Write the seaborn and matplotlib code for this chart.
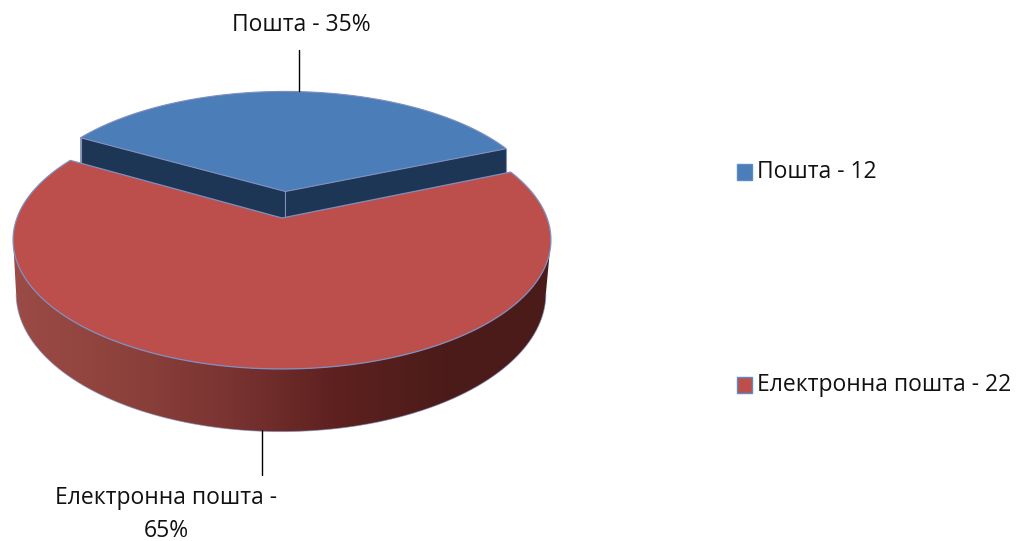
import numpy as np
import seaborn as sns
import matplotlib
matplotlib.use("Agg")
import matplotlib.pyplot as plt
from matplotlib.colors import ListedColormap
from matplotlib.patches import Polygon, Rectangle

names = ["Пошта", "Електронна пошта"]
values = [12, 22]
top_colors = ["#4B7DB9", "#BC4F4C"]
wall_blue = "#1E3655"
wall_reds = ["#9C4B47", "#8E423C", "#7A3432", "#5E211F", "#4C1C1A", "#4A1B19"]
edge_col = "#7F8FBF"

# fitted against the picture: perspective pie in pixel space
CX, CY = 282, 218
A, B, K = 265, 125.3, 0.17
DEPTH = 52
START = 23
EXPLODE = 0.22
FONT = 16.5


def project(x, z):
    w = 1 + K * z
    return CX + A * x / w, CY - B * z / w


def rim(a0, a1, ox=0, oz=0, r=1.0):
    t = np.radians(np.linspace(a0, a1, 300))
    return ox + r * np.cos(t), oz + r * np.sin(t)


def slice_poly(a0, a1, ox=0, oz=0, r=1.0):
    x, z = rim(a0, a1, ox, oz, r)
    px, py = project(x, z)
    ax0, ay0 = project(ox, oz)
    return np.r_[ax0, px], np.r_[ay0, py]


def drop(px, py, z):
    # bottom face: a bit narrower and pushed down
    return CX - 1 + (px - CX) * 0.985, py + DEPTH / (1 + K * z)


sns.set_theme(style="white")
plt.rcParams["font.family"] = ["Open Sans", "DejaVu Sans"]

fig = plt.figure(figsize=(10.23, 5.41), dpi=100)
ax = fig.add_axes([0, 0, 1, 1])

total = sum(values)
sweep = [v / total * 360 for v in values]
b0, b1 = START, START + sweep[0]
r0, r1 = b1, b1 + sweep[1]
mid = np.radians((b0 + b1) / 2)
ex, ez = EXPLODE * np.cos(mid), EXPLODE * np.sin(mid)

# blue slice, only its two cut faces show
bx, by = slice_poly(b0, b1, ex, ez, 1.0)
for i in (1, -1):
    quad_x = [bx[0], bx[i], bx[i], bx[0]]
    quad_y = [by[0], by[i], by[i] + 45, by[0] + 45]
    ax.fill(quad_x, quad_y, color=wall_blue, lw=0, zorder=1)
for i in (0, 1, -1):
    ax.plot([bx[i], bx[i]], [by[i], by[i] + 45], color=edge_col, lw=0.8, zorder=1.1)
ax.fill(bx, by, facecolor=top_colors[0], edgecolor=edge_col, lw=0.8, zorder=2)

# red slice wall, shaded left to right, silhouette between the two side extremes
side = np.degrees(np.arcsin(K))
x_t, z_t = rim(180 + side, 360 - side)
px, py = project(x_t, z_t)
qx, qy = drop(px, py, z_t)
shades = ListedColormap(sns.blend_palette(wall_reds, 256))
grad = np.linspace(0, 1, 256).reshape(1, -1)
img = ax.imshow(grad, cmap=shades, extent=(12, 550, 440, 150), aspect="auto", zorder=3)
wall = Polygon(np.c_[np.r_[px, qx[::-1]], np.r_[py, qy[::-1]]], closed=True,
               facecolor="none", edgecolor="none", transform=ax.transData)
ax.add_patch(wall)
img.set_clip_path(wall)
ax.plot(qx, qy, color=edge_col, lw=0.7, alpha=0.6, zorder=3.1)

rx, ry = slice_poly(r0, r1)
ax.fill(rx, ry, facecolor=top_colors[1], edgecolor=edge_col, lw=0.9, zorder=4)

# leader lines and data labels
ax.plot([299, 299], [50, 91], color="black", lw=1, zorder=5)
ax.plot([262, 262], [430, 475], color="black", lw=1, zorder=5)
pct = [round(v / total * 100) for v in values]
ax.text(301, 25, f"{names[0]} - {pct[0]}%", ha="center", va="center", fontsize=FONT, color="#111111")
ax.text(166, 498, f"{names[1]} -", ha="center", va="center", fontsize=FONT, color="#111111")
ax.text(166, 531, f"{pct[1]}%", ha="center", va="center", fontsize=FONT, color="#111111")

# legend
for name, val, col, y in zip(names, values, top_colors, [171.5, 385]):
    ax.add_patch(Rectangle((736.5, y - 8), 15, 16, facecolor=col, edgecolor="#5B8CC8", lw=1))
    ax.text(757, y, f"{name} - {val}", ha="left", va="center", fontsize=FONT, color="#111111")

ax.set_xlim(0, 1023)
ax.set_ylim(541, 0)
ax.axis("off")

fig.savefig("out.png", dpi=100)
